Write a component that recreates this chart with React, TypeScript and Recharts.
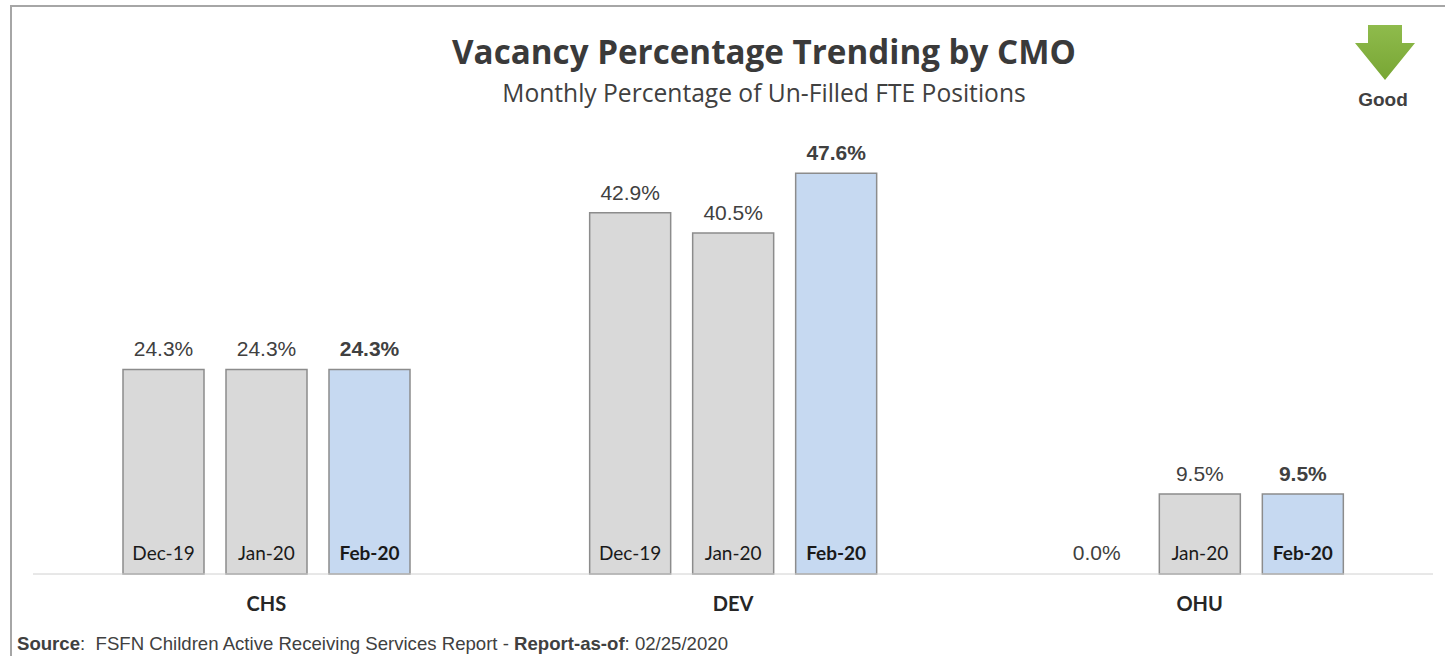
import { BarChart, Bar, XAxis, YAxis, LabelList } from 'recharts';

const cmos = ['CHS', 'DEV', 'OHU'];
const months = ['Dec-19', 'Jan-20', 'Feb-20'];
const dec19 = [24.3, 42.9, 0.0];
const jan20 = [24.3, 40.5, 9.5];
const feb20 = [24.3, 47.6, 9.5];

const data = cmos.map((cmo, i) => ({ cmo, dec: dec19[i], jan: jan20[i], feb: feb20[i] }));

const BASE_Y = 574;
const BAR_SIZE = 81;
const BAR_GAP = 22;
const VALUE_FONT = 'Liberation Sans, Arial';

const makeTopLabel = (bold: boolean) => (props: any) => {
  const { x, y, width, value } = props;
  if (!value) return null;
  return (
    <text x={x + width / 2} y={y - 13} textAnchor="middle" fontFamily={VALUE_FONT} fontSize={21}
      fontWeight={bold ? 700 : 400} fill="#404040">
      {value.toFixed(1)}%
    </text>
  );
};

const makeBottomLabel = (month: string, bold: boolean) => (props: any) => {
  const { x, width, value } = props;
  if (!value) return null;
  return (
    <text x={x + width / 2} y={BASE_Y - 14} textAnchor="middle" fontFamily="Lato, sans-serif" fontSize={19}
      fontWeight={bold ? 700 : 400} fill="#1a1a1a">
      {month}
    </text>
  );
};

// category label, plus the "0.0%" text for a zero-height first bar
const CategoryTick = (props: any) => {
  const { x, payload } = props;
  const zero = dec19[payload.index] === 0;
  return (
    <g>
      <text x={x} y={BASE_Y + 37} textAnchor="middle" fontFamily="Lato, sans-serif" fontSize={20} fontWeight={700} fill="#262626">
        {payload.value}
      </text>
      {zero && (
        <text x={x - BAR_SIZE - BAR_GAP} y={BASE_Y - 14} textAnchor="middle" fontFamily={VALUE_FONT} fontSize={21} fill="#404040">
          {dec19[payload.index].toFixed(1)}%
        </text>
      )}
    </g>
  );
};

const GoodArrow = () => (
  <svg width={70} height={60} style={{ position: 'absolute', left: 1350, top: 24 }}>
    <defs>
      <linearGradient id="arrowGrad" x1="0" y1="0" x2="0" y2="1">
        <stop offset="0%" stopColor="#8fbb4c" />
        <stop offset="100%" stopColor="#78a634" />
      </linearGradient>
    </defs>
    <polygon points="18,1 52,1 52,19 65,19 35,56 5,19 18,19" fill="url(#arrowGrad)" />
  </svg>
);

export default function App() {
  return (
    <div style={{ position: 'absolute', left: 0, top: 0, width: 1445, height: 656, overflow: 'hidden', background: '#fff' }}>
      <div style={{ position: 'absolute', left: 10, top: 5, width: 1460, height: 700, border: '2px solid #a6a6a6', boxSizing: 'border-box' }} />
      <div style={{ position: 'absolute', left: 0, top: 29, width: 1528, textAlign: 'center', fontFamily: 'Open Sans, sans-serif', fontWeight: 700, fontSize: 33.2, color: '#3a3a3a', whiteSpace: 'nowrap' }}>
        Vacancy Percentage Trending by CMO
      </div>
      <div style={{ position: 'absolute', left: 0, top: 76, width: 1528, textAlign: 'center', fontFamily: 'Open Sans, sans-serif', fontSize: 24.6, color: '#404040', whiteSpace: 'nowrap' }}>
        Monthly Percentage of Un-Filled FTE Positions
      </div>
      <GoodArrow />
      <div style={{ position: 'absolute', left: 1342, width: 82, top: 89, textAlign: 'center', fontFamily: 'Liberation Sans, Arial', fontWeight: 700, fontSize: 19, color: '#404040' }}>
        Good
      </div>
      <div style={{ position: 'absolute', left: 17, top: 633, fontFamily: 'Liberation Sans, Arial', fontSize: 18.6, color: '#404040', whiteSpace: 'nowrap' }}>
        <b>Source</b>:&nbsp; FSFN Children Active Receiving Services Report - <b>Report-as-of</b>: 02/25/2020
      </div>
      <div style={{ position: 'absolute', left: 0, top: 0 }}>
        <BarChart width={1445} height={656} data={data} margin={{ top: 153, right: 12, bottom: 52, left: 33 }}
          barGap={BAR_GAP} barSize={BAR_SIZE}>
          <XAxis dataKey="cmo" height={30} tickLine={false} axisLine={{ stroke: '#d0d0d0' }} tick={<CategoryTick />} interval={0} />
          <YAxis hide domain={[0, 50]} />
          <Bar dataKey="dec" fill="#d9d9d9" stroke="#8c8c8c" strokeWidth={1.5} isAnimationActive={false}>
            <LabelList dataKey="dec" content={makeTopLabel(false)} />
            <LabelList dataKey="dec" content={makeBottomLabel(months[0], false)} />
          </Bar>
          <Bar dataKey="jan" fill="#d9d9d9" stroke="#8c8c8c" strokeWidth={1.5} isAnimationActive={false}>
            <LabelList dataKey="jan" content={makeTopLabel(false)} />
            <LabelList dataKey="jan" content={makeBottomLabel(months[1], false)} />
          </Bar>
          <Bar dataKey="feb" fill="#c6d9f1" stroke="#8c8c8c" strokeWidth={1.5} isAnimationActive={false}>
            <LabelList dataKey="feb" content={makeTopLabel(true)} />
            <LabelList dataKey="feb" content={makeBottomLabel(months[2], true)} />
          </Bar>
        </BarChart>
      </div>
    </div>
  );
}
